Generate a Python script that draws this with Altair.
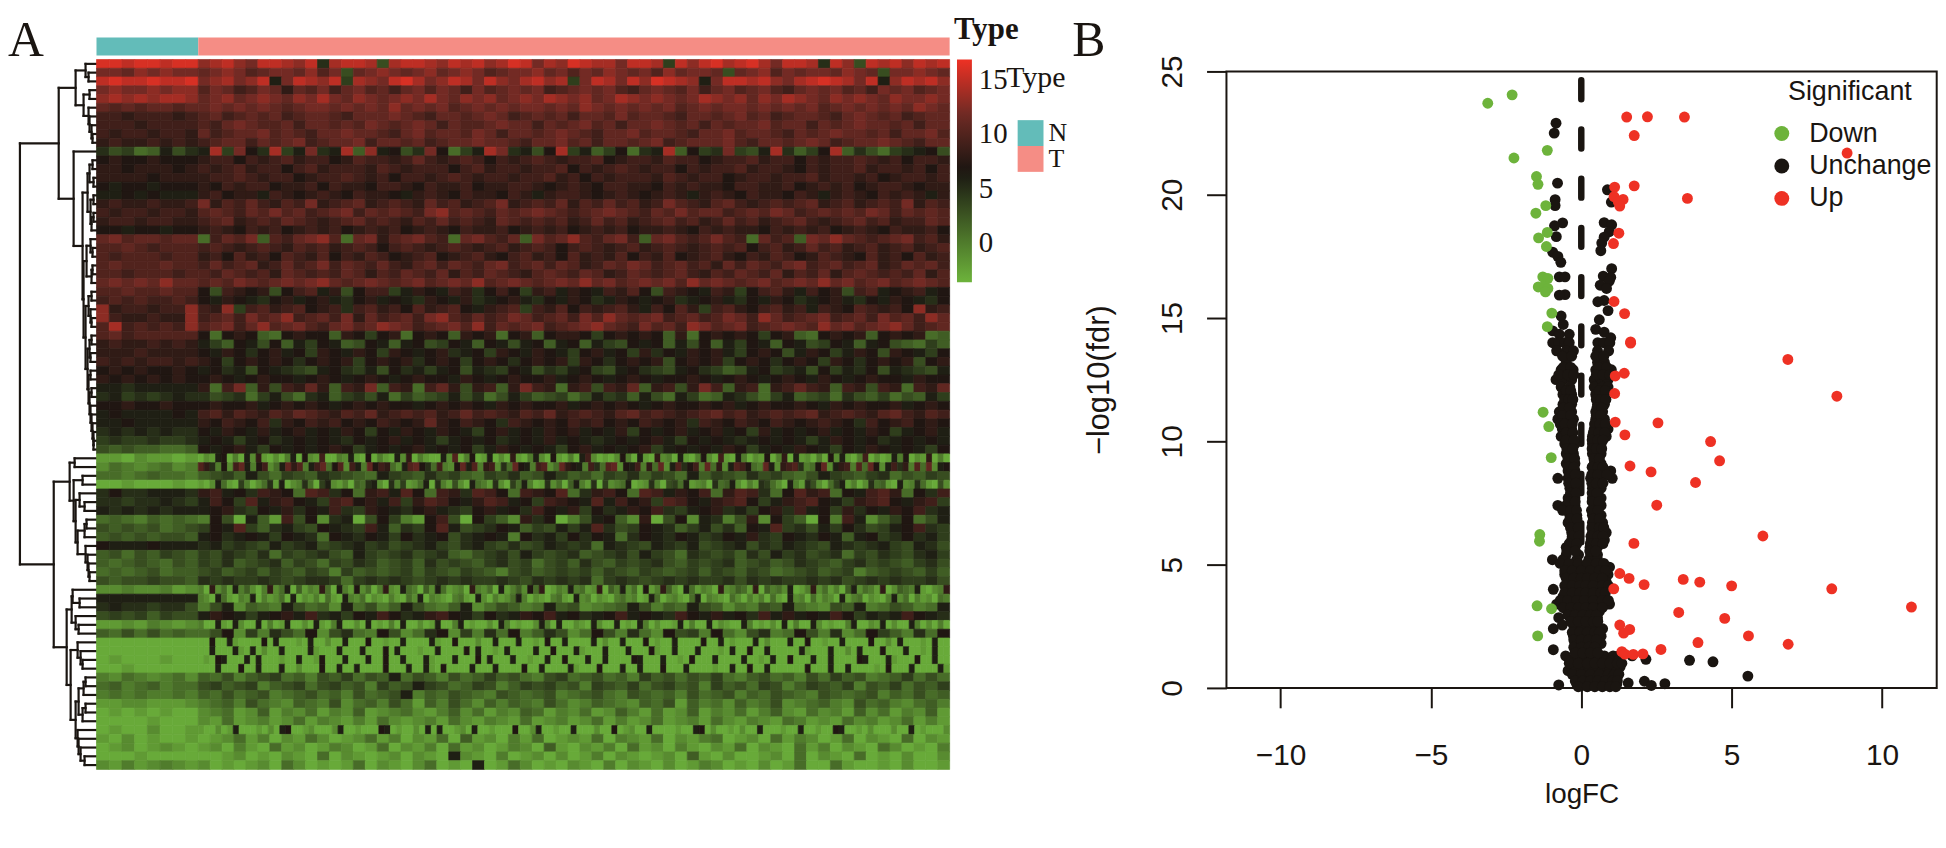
import altair as alt
import pandas as pd

alt.data_transformers.disable_max_rows()

INK = "#1a1511"
GREEN = "#6db33b"
BROWN = "#6e2a24"
RED = "#ee3124"
TEAL = "#63bcb9"
SALMON = "#f58d85"
SERIF = "Liberation Serif"
SANS = "Liberation Sans"

N_SAMPLES = 34
T_SAMPLES = 251
N_ROWS = 81

# Heat map: one letter per block, A=-3, B=-2 ... J=6, K=7 ... T=16
heat_N = [
"TTSTTSTT","PPOQPQPP","STSSTSST","PQPPQPQQ","QRQRQRRQ","ONONOONO","MMLMMMLM","MMMLMMMM",
"MLMMLMML","LMLLMLML","IGHEFJGI","KLKKLKKK","LLKLLLKL","LLLLKLLL","KJKKJKKK","JJKJKJJJ",
"LMLLMLLM","MLMMLMML","LMMLMMLL","KKJKKJKK","OPNOONOO","NNONMNNN","NMNNNMNN","NONNNONN",
"NNMNNNMN","OPOPOQOO","NNONNONN","MNMNMMNM","QLMMLMMQ","QMLLMLLQ","NRMNMNMQ","NOMNNNNN",
"LMLLMLML","LLLMLLLL","MLMLMMLM","KLKLKKLK","LKLKLKLK","JJIJJJJJ","IJHIHIJI","KKLKKLKK",
"JKJJJJKJ","JJKJJJJJ","IJIJIJII","HIHHIHHI","GFGFFEEF","BBACBBAB","CEDCDECD","EEDEFEED",
"AABAAABA","IKIIJJJI","IIHIIJIH","JIJIJIJJ","EFEDFEFE","GFGFGEFG","FGFGFGGF","KJJJKJJJ",
"FGEGFHGF","FEFGFEGF","EFEFGEFF","GFGGHGGF","CCDCCDBC","JJJJJJJJ","IJIIHIIG","GHGHFHGG",
"BBCBDCBC","FEGEGEFE","AAAAAAAA","AAAAAAAA","ABAAABAA","AABAAAAA","DCEDCDEC","EFDEFDEE",
"DEDEDDED","BBCCBBBC","ABABABAA","AAAABAAA","ABAACAAB","BACABAAB","ABCABCBA","AAABAAAA",
"CBDBCDCB",
]
heat_T = [
"QRSQPSSRQSIRSSRGRSSRQSRSQRTSPRQTSRRPSSRHSQSTRSTRPSSRISQGSRSQSRS",
"OPQPNOPPOQNPGOPQPOPQOPQPNOPPQOPNPOQPOPNQOPPOGOPQNPOPPOQPOGPPQPO",
"PQRPQSJPSRQSHRQPSTRPQSRPSQPRSQRHPSRPSQTSRQJPSSRSQPRSTSRPSJQSRSQ",
"NPOMNPOLONPMOPNOMOPNPOMPNOPOPMNOPOPNMOPONPMOPNOPNMOPOPNOMPOPNOP",
"OPQOPQPOQPRPOQPOPQPRPOQPQOPQPRQPQOPRQPQPOPRQPQOQPRQPOQPQPOQPPQP",
"OPOPOPONOPPOPOPOQOPOPNOPOPOPPOPOQPOPOPOPNOPOPPOPOPOPNOPOPOPOQPO",
"NOMNONOMNOONMOOOPONMOONOPOMNONOMOONPNOONMOONOPNOMNOONMOPONOMNOO",
"NMOPONNOMOONONPONOPOMONNOPOOMONOPNOMOOPONOMONOOPNOOMONOPOONOMOO",
"OMNOOPNONMOOPOONMOPNOONPOMOONOPONMOOPNOONMOOPNOONMONOPOONOMOOPN",
"MNOOMONOPMNOOPMOONOMNOOPOONMOOPNOMOONOPMNOOOPNMOONOPOMNOOPONMOO",
"JRHPKIRHJPIJRFQJKGIPKEHJRPIJGKRHJFHKEIJRFKHIPHGJRIFHKRFIGEHIJKG",
"LMMKMLMNLMMKLNMMLMOMLMNMKMLMNMLMMNKLMMLNMMKLMMNLMMKMLMMNMLMKMML",
"MLMNLMMKMNLMMMLNMLMMMKMNLMMLMMNKMLMNMLMMKMLMMNLMMLKMLMMNLMMLMKM",
"LMMNMLMMKLMMNMLMKMMLMNMLMMLMMNLMKMLMMMLNMLMMKLMMLMMNLMMLMKLMMLM",
"LKMLMMKLLMKMLLKMMLKMLLMKLLMMLKLMLKMMLLKMLMLLKMMLLMKLMLMKLMMLKLL",
"LMKLLJMLKLMLKMLLKJLMLKMLLKMLJLMMLKLMLKLMLJLMLKMLLKMLJLMLKMLMLJL",
"PLNMOMLNMPLMNOLMNMLOMNLMNPLMNMOLNMOMNLMPNMLNOMLMNMNOLMNLMNMPLNM",
"NONMONPNOMNOPMONONMPQNONMONOPONMNOPONMONPNOOMNONPOMNONONPOMONON",
"MNOLMNMONMLMNOMNMLNMOMNMLONMNMNLMOMNLMNOMNLMOMNLMNOMLMNOMNLMMON",
"LMLKMLMKLMLMKLMLMKLMLKMLLMKLMLMKLMLMKLLMLKMLMLLKMLMLMKLMLKMLLMK",
"EMONPFNMOPQNEOPLNOPNMEOPNMOFPNOQNMOPMFOPNMNPNMEOMNFPOQONMNOPMNL",
"MNMLMNMLNMNLMNMKMNMLMNMLMNLMNMKMNMLMNLMNMLMNMNKMNLMOMNLMNLMNLMN",
"LMKNLMKNMLNKMLNMKLMNKLMNLKMNLMKNLMLNKMLNKLMNLKMLNMKLNMLKNLMKNLM",
"MOMNOLMOMNPMONMOMLNOMONMOPMNOMONLMONPOMNOMNLOMONMOPMNOMNOLMONOM",
"NMONMNLONMNMONLNMONMOLNMONMLNONMONLMONMNOMLNMONMOLNMOLNONMNMOLN",
"NONPONOPOPQONOPONOPNOPOQNOPONOPOQOPNOPOPNQOPONOPNOPOQOPNOPNOPON",
"KGMLKLGKMNJLGKMMHJLKJMLIKMKHLMJLKJMLNKGMLKJMLHKMNLJMKLGMNJKLMJK",
"KJLKJIKLJKLJIKLJKJILKJLIJKLJIKJLKIJLKJKLIJKLJIKJLKIJKLJIKJLKJIK",
"MLQHMNLMNKLMIMNLMKNLMNKJLMNHMLNKMLMNLJMKNLHMNLKMNLMJMLKNMLMKQLM",
"MNOMPNOQMNOMPLOMNOMPQNMOMNPOMNOMPNQONOPMNOMNPOMQOMNOPMNOMPNOMQO",
"NOPMOQNOPNMOPNOQPOMNOPNQMONOPMNOPQONMPNOMQPNOPMNOPONQOPNOPQOMNO",
"KEKLKFEKLKKFLKHKLEKLKFLKLEKLFKLLKHKLKLKFLEKLKLKHKLFEKLKLFKLKLEF",
"JHFKJGKFJHKJFGKJFJKGHKJFKJGJKFJKFJHGKJKFJGKFJHKJFKJGHKJFJKGFEHF",
"KJLKIKLJKHLKJLKHLKJKLIJKHLKJLKJHKLJKHLIKJLKLJHKLKGJLKHJLKGLKJHK",
"LKHKLKLKIKLKLHKLKLIKLKHKLKIKLKLHLKIKLKLGKLKLHKLKIKLKHLKIKLKLGKL",
"JKIJGKJIHGJKIHJGKIJHJKGJIHKJGIHJKHGJKIHGJKIHFGJKHIJGKHJIKGJIHGJ",
"KLKJKLKKJKLKJKLKJKLKKJLKJKLKKLJKLKJKLKJKKLKJKLKJKLKJLKJKLKKJLKK",
"LEMPFLGMLOLFMLPFMLEMOLGLMFLPMLELMGMLOFLMGLPMFLMELMOMLFMLGMLEMLO",
"IGHIEHJGEIJFHIGJEHFGHJGIEGJHFGHEGJHIFJGEJHEFJIGEHJFGHEIGFHEGFJH",
"KLKKLJKLKLKJKLKLKKJKLKLKJLKLKKLJKLKLKJKLKKLKLJKLKKLKJLKLKKLJKLK",
"MNLNMLNMONMLNMOLMNMNLMOMNMLNMOLMNMLNOMNMLMNOMNLMNMNOLMNMLNOMLNM",
"LKMLKMILKMLMKLKMLKLOLKMLKIMLKLKMLMKLKMLKLIMLKMLKMLKLMLKIMKLMKLK",
"KJLKJLJKLJKJLKHKJLKJLKJHKLJKJLKLJKJLHKJKLJKLJKHLJKJKLJKJLKHJKLJ",
"JKJHJKIJKJKJIKJKLJKJHJKJKIJKJLJKJIJKJKLJHKJKJIJKJKJHJLKJKIJKJKJ",
"KJKLJHKJKJKLKHJKJKLJKJKHJLKJKJHKLJKJKLHJKJKJLKHJKJLKJHKJLKJKJHK",
"ACBJKADAJCLBACADJAKCBMAADCJBAKADBAJCLADBAAJCNADKABJACALBADJCAKBADAJMCABACKDAJBALCDAJBADKCAMBAJDACBKADLAJBCADAKCJBADMACABJDKACBLADA",
"NLIDKCMOJDKMCEJOLNDJMOEKNCMJDOKMLECJNOKIEMDCKOJNDLMCIEOKJDMNCEOLKJDMIENOCKJMDLEOCJNIKMDOELCJNMKEDOJCLMNIDEKOCJLMDNEOKCJMILDNEOCJK",
"FGHFJGEHGFIHGFEJHGFIGHFEHGIFGJHFGEHGIFHGEJFHGFIGHFEGJHGFHIEGFHG",
"BACJEBAHDACEIBJACDIEAHJCBDAFEIJCAIDHBCEJAIDBGCAJEDBICAHEJDABICEAFJDBIAHCDEJABCIDAGHEJBCDAIEFJCADBIHECAJDBIGCAEHJBDACIEFBAJCDIEBAGC",
"LMJKIMLKENMIKELMJNKEMLINMKEMLKNEILMKENMJLKMELNMIEKNLMEKJMNLEKIM",
"JMKHNJLMKJHMNKLJMHLNMKJLNMJKHMLKJNJMKLHNMKJLMNKHJLMNKJHLMNKJLMH",
"JKLIHKJLIKJMIHLKJIKLJIHKLJKIMKJLHKIJLKMIHJKLIJHKLIMJKHLIKJLKMIJ",
"DKGAJFBMGKCIJAGKHDBKMGAKHFCLIKADGJKFCLAGKCJIDGLCKHFAKDMJCFHKEGJ",
"HKJNHFIJHGKJIHMJFIHKNJGHIKJFHGJHJNIGHKJIFHJGIFKJNHIGJHKIGHJKMIH",
"JKIJKJHKJIEKJIKJHKIJKGIJKJDKIJHKIKJEIKJIKJHIKJLIHKJIKJFJKHIKIJH",
"IJHIHGJHIJGHIJHIGHIJHGIJHGIGHJIHIEJIHGJIHJGHIJGIHJIHGJIHIJHGJIG",
"HGIHGIEHGHIGFJHGHIGHIFEGHIGJHGHIFGHIGJHGEIHGHFIGJHIGHIEHGIHGIJH",
"HGIFGHIFHGEHGIHFGHFIGHGFHIGHEGHFIGFHGHIGFHGHIFGHFGIHGFHIGHGFHIG",
"GHFGHFHGFHGDHFGFGHFHGFHGFDGHFGHGHFHGFHGFGHFHGFHGEFGHFGHDFGHGFHF",
"IHIHHIHGHIIHEHIHIHGHIHIHHIHGIHIHIEHIHGHIHIHHIGIHIHHIHIGHIHIHHIG",
"DALCEBJDFCADLCEJAFBDCLEAJDBKCEADLCBJEDAFCJEBCDALDCEAJBDFCKELABDCJDEBCLAFDJCEAKBDLFCAJEBDCALCDFEBLAFDECJABDLCEBDAFJCEDBLACFEDJBACDL",
"DCAJEBADCJADBCEAJACBDAEBAJDCEACBADBAECJADCBADEBAJCADBCEJDACBADEBAJCDACBADECDABJEACDBAEJADCBAECADBDAEBAJCDAEBDCAJBDEACBADJCEADBCAED",
"DGJCFEDJGEFCJEGDFJGEDFJCEGFDEJFGCDEFJGDFEJGFCEDGFJEDCGFJDEGFDEJ",
"JLKJHJKLJMIJHKJMKIJLMKJHKIJLKMJKIJKMJKJIMKJLJKIMJLJKJMKHJIJMKJI",
"DAAJBAJCAAJADABJAACAJBADJAACAJABADAJAACABJAADJABAACAJDABAACJDAJAACBAJCAAJABAJDACAABJADAAJACBAAJDABACAJADAAJCABAADJAACBJACAAJDACADA",
"EGKCHDIGEKCGIEDKGCEIKCHDIEKDFIGCEKGDIECKGHDKECGIDEKGDICEKHFDIEK",
"AAKAAJBAAAAKAJAAABAJAACAAJAAAKAABAAJAAAAJBAAKAAACAAJAAAJAABAKAAJAAAAJACAAJAAAKABAAJAAAAKAAJABAAAJACAAAJAAKAABAAJAAAAKAACAJAAABAJAA",
"AAJAAAJBAJACAAJAAAAJBAAAJAAAJAAAKAJAAABAAJAAAAKAJAABAJAAAAJAAKAAAJBAAAJAAAJAAAKBAAJAAAJAAABAJAAKAAJAAAAAJBAAAJAACAJAAAKAAAJAABAJAA",
"ABAKJAAAJAJAAABAAJAABKAAAJAAAJAAKAAJAAAJBAAAJAAAKAJAAAJAABAAJAAKAAAJAAJAAAAKJAAAJAABAKAAAJAAAAJAABAJAAKAAAJAAJAAAAKJAAAJBAAAKAAJAA",
"AAAJAAAKAAJAAAJAACAAAKAAJAAJAAAAKAAAJAAJBAKAAAAJAAAJAAAAKAAJAAAAJBAAAKAAAJAAJAAAKAAAJAAAABAAJAAKAAJAAAAAAKAAAJAAJAAAABAKAAAJAAAAJB",
"FEGDFGHEFDGFHEGFJEGFDGEFHFGEDGHEFGEFDHFGEGFHEDFGEFDGEHFGDEFHEGE",
"GHFGHDFGHEGHFGDHFGJHGEFHGDFHGHFGDHGFHEGHFGDHFGEHGDFHGFHDGFHEGFH",
"FEGEFGDEFGEFDGEFGJDFEGFEDGFEFGDEFGEDGFEFDGEFGDFEGFEDGFEFGDFEGEF",
"DEFDGEDCFEDGCEFDGEBFDGECFDFEDGECDFEDCFEGBFDECFDEGCDEFDCGEFDCEFD",
"CDEBCFBDCEBDCFBCDECBDFCEBDCFEBDCEBCFDBEBCFBDCEBDFCBECDBFCEBDCFB",
"CBEBCDBCEBDCBDBECBCDBECBDCBEBCDBCEBDBCEBCDBECBDCBEDBCBECDBCEBDB",
"BAACABJAAABACAJKAABCAAACJAABAAAKJABAACAJAJAABCAJAABAAAKAACJAABAAJAAACAAKABCAAJAAAABAAJKACAABACAAJAAABAAJAABAAKJAABACAAACAAJABAAAC",
"ABCEBDACBECABCEBDACBEAFBCADBEABCBEADCBEACBDEABCAEBDCABEACBAEACB",
"BCADBAEBCABDCABEACBDAEBCABDCAFBACBDAEBCADBACBEACBAEBDACBAECABAD",
"AABCABACBAEACBABCACBAJCBADABCACABDACBABCAFBACAABCAEACBAEABACAAC",
"CABABCAECABABEACBACEABAJABECABACBADACBACABDCABACABEAAEBAABACAAB",
]

# Dendrogram: (height, child, child); a bare number is a heat-map row
dendro_tree = (77,
    (38,
        (21,
            (11, 0, (8, 1, 2)),
            (13, (7, 3, 4), (8, 5, (7, 6, (5, 7, (4, 8, 9)))))),
        (23, 10,
            (14,
                (9, (7, (4, 11, 12), (3, 13, 14)), (6, (3, 15, 16), (5, (3, 17, 18), 19))),
                (13,
                    (10, (6, 20, (4, 21, 22)), (5, (4, 23, 24), 25)),
                    (11,
                        (8, (5, 26, 27), (6, 28, (5, 29, 30))),
                        (9,
                            (7, (5, 31, 32), (6, 33, 34)),
                            (8, (6, 35, 36), (7, (5, 37, 38), (6, 39, (5, 40, (4, 41, (3, 42, (3, 43, 44))))))))))))),
    (43,
        (27,
            (22, 45, 46),
            (23, (14, 47, 48),
                (21, (17, 49, (12, 50, 51)),
                    (19, (12, (10, 52, 53), 54), (11, 55, (9, 56, (8, 57, (7, 58, 59))))))))
        ,
        (30,
            (25, (24, 60, (17, 61, 62)), (21, 63, (18, 64, 65))),
            (26,
                (19, 66, (16, 67, (14, 68, 69))),
                (21,
                    (18, (13, (11, 70, 71), 72), (14, (11, 73, 74), 75)),
                    (19, 76, (18, 77, (16, 78, (12, 79, 80))))))))
)

# Volcano plot
down_x = [-3.11,-2.30,-2.24,-1.13,-1.49,-1.44,-1.18,-1.51,-1.13,-1.42,-1.16,-1.28,-1.11,-1.43,-1.22,-1.11,-1.19,-0.98,-1.13,
          -1.27,-1.08,-1.00,-1.38,-1.39,-1.47,-0.99,-1.45]
down_y = [23.71,24.05,21.49,21.80,20.74,20.42,19.56,19.25,18.47,18.25,17.90,16.67,16.61,16.26,16.29,16.20,16.06,15.20,14.65,
          11.18,10.60,9.34,6.22,5.95,3.33,3.21,2.11]
up_x = [1.51,2.20,3.43,1.76,8.84,1.76,1.11,1.09,1.39,1.23,1.28,3.53,1.25,1.07,1.09,1.44,1.64,
        1.64,6.87,1.43,1.13,8.50,1.11,1.13,2.55,1.45,4.30,4.60,1.62,2.32,3.80,2.51,6.04,1.75,
        1.28,1.59,2.09,1.08,3.39,3.94,5.00,8.33,10.98,3.24,4.77,1.28,1.61,1.41,5.56,6.88,3.88,2.65,1.35,1.45,1.73,2.05]
up_y = [23.15,23.16,23.15,22.40,21.69,20.36,20.31,19.92,19.81,19.72,19.54,19.85,18.44,18.02,15.67,15.18,14.03,
        13.98,13.32,12.76,12.65,11.83,11.94,10.78,10.75,10.26,9.99,9.21,9.00,8.76,8.33,7.41,6.16,5.86,
        4.64,4.44,4.19,4.02,4.40,4.29,4.14,4.02,3.28,3.06,2.82,2.55,2.37,2.22,2.11,1.77,1.84,1.56,1.47,1.37,1.36,1.38]
# Unchanged points, one (fdr level, [logFC ...]) per band
flat_rows = [
(22.90,[-.84]),(22.50,[-.90]),(20.47,[-.79]),(20.20,[.87]),(19.80,[-.87]),(19.70,[1.00]),(19.56,[-.87]),
(18.87,[.76]),(18.86,[-.62]),(18.78,[1.01]),(18.74,[-.89]),(18.50,[.93]),(18.30,[-.83]),(18.28,[.76]),(18.04,[.68]),
(17.73,[.65]),(17.67,[-.95]),(17.50,[-.78]),(17.26,[-.68]),(17.00,[1.01]),(16.70,[.73]),(16.67,[-.73,-.54]),(16.65,[.98]),
(16.50,[.93]),(16.33,[.63]),(16.20,[.84]),(15.95,[-.54]),(15.93,[-.73]),(15.71,[.76]),(15.66,[.55]),(15.30,[.89]),
(15.08,[-.67]),(14.93,[.60]),(14.74,[-.60]),(14.54,[.48]),(14.48,[-.95]),(14.43,[.76]),(14.34,[-.40,-.73]),(14.20,[.98]),
(14.00,[-.95,-.75,-.55,-.40,.55,.75,.95]),(13.67,[-.82,-.50,-.26,.54,.91]),(13.20,[-.50,.54,.77]),
(12.90,[-.67,-.27,.48,.77,1.00]),(12.50,[-.84,-.61,-.32,.43,.66,.89]),(12.20,[-.67,-.38,.43,.71,.89]),
(11.90,[-.61,-.32,.48,.77]),(11.50,[-.61,-.32,.54,.77]),(11.20,[-.73,-.32,.48,.71]),(10.90,[-.78,-.50,-.26,.48,.77]),
(10.50,[-.63,-.32,.43,.71,.89]),(10.20,[-.67,-.32,.37,.66,.83]),(9.90,[-.55,-.21,.37,.66]),(9.50,[-.50,-.26,.37,.66]),
(9.10,[-.50,-.21,.43,.66]),(8.80,[-.44,-.21,.43,.77,.98]),(8.50,[-.78,-.44,-.21,.31,.66,1.03]),(8.10,[-.38,-.15,.37,.66]),
(7.70,[-.44,-.21,.37,.66]),(7.40,[-.78,-.50,-.21,.43,.66]),(7.00,[-.38,-.15,.37,.66]),(6.70,[-.44,-.15,.37,.71]),
(6.30,[-.32,-.09,.37,.66,.83]),(6.00,[-.32,-.09,.33,.60,.77]),(5.70,[-.50,-.21,.29,.54]),(5.40,[-.50,-.09,.31,.54]),
(5.20,[-.96,-.61,-.15,.25,.54]),(4.90,[-.50,-.15,.20,.54,.83,.94]),(4.60,[-.55,-.21,.08,.31,.60,.89]),
(4.30,[-.44,-.15,.08,.25,.66,.83]),(4.00,[-.93,-.50,-.21,.02,.25,.54,.83]),(3.70,[-.61,-.26,.02,.25,.54,.77]),
(3.40,[-.82,-.61,-.26,-.03,.25,.60,.83,.94]),(3.10,[-.38,-.15,.08,.31,.60]),(2.85,[-.75,-.26,-.03,.25,.54]),
(2.55,[-.63,-.26,-.03,.20,.48]),(2.40,[-.93,-.21,.02,.31,.71]),(2.10,[-.26,-.03,.20,.43,.66]),(1.80,[-.21,.02,.25,.48,.66]),
(1.55,[-.93,-.21,.02,.25,.48]),(1.30,[-.52,-.15,.08,.31,.54,.77,1.06,1.23,1.69]),(1.16,[2.15]),(1.12,[3.60]),(1.06,[4.38]),
(1.10,[-.38,-.15,.08,.31,.54,.77,1.00,1.23]),(.85,[-.32,-.09,.14,.37,.60,.83,1.06,1.29]),
(.70,[-.44,-.21,.02,.25,.48,.71,.94,1.18]),(.48,[5.54]),(.40,[-.09,.14,.37,.60,.83,1.06]),(.27,[2.10]),(.20,[1.56]),
(.17,[2.78]),(.15,[-.15,.08,.31,.54,.77,1.00,1.18]),(.12,[-.75]),(.10,[2.33]),
(13.45,[-.62,-.32,.48,.75]),(13.00,[-.60,-.35,.58,.85]),(12.70,[-.75,-.45,-.25,.50,.72,.95]),(12.05,[-.50,-.35,.60,.80]),
(11.70,[-.55,-.42,-.28,.50,.65,.82]),(11.35,[-.60,-.40,.52,.68]),(11.05,[-.62,-.36,.50,.64]),(10.70,[-.70,-.55,-.30,.44,.62,.80]),
(10.35,[-.50,-.28,.40,.58,.78]),(10.05,[-.50,-.24,.36,.55,.72]),(9.70,[-.48,-.28,.36,.50,.68]),(9.30,[-.44,-.22,.42,.60]),
(8.95,[-.44,-.24,.36,.56,.72]),(8.65,[-.40,-.20,.35,.55,.85]),(8.30,[-.42,-.18,.35,.50,.72]),(7.90,[-.36,-.17,.36,.52]),
(7.55,[-.42,-.20,.36,.58]),(7.20,[-.62,-.36,-.16,.34,.56]),(6.85,[-.38,-.14,.40,.60]),(6.50,[-.36,-.10,.35,.60,.75]),
(6.15,[-.30,-.08,.32,.55,.72]),(5.85,[-.40,-.15,.30,.50,.72]),(5.55,[-.48,-.20,.28,.48]),(5.05,[-.70,-.40,-.10,.20,.50,.75]),
(4.75,[-.55,-.30,.00,.30,.60,.80]),(4.45,[-.50,-.25,.00,.20,.45,.70]),(4.15,[-.55,-.30,-.05,.15,.40,.70,.90]),
(3.85,[-.55,-.30,-.05,.15,.40,.65,.80]),(3.55,[-.70,-.45,-.15,.10,.40,.70,.90]),(3.25,[-.60,-.35,-.10,.15,.40,.70]),
(2.95,[-.45,-.20,.05,.30,.50]),(2.70,[-.35,-.10,.15,.40,.55]),(2.25,[-.30,-.05,.20,.45,.60]),(1.95,[-.25,.00,.25,.50]),
(1.65,[-.25,.00,.25,.45]),(1.42,[-.20,.05,.30,.55]),(1.00,[-.40,-.10,.20,.45,.70,.95,1.20,1.35]),
(.55,[-.30,.00,.30,.60,.90,1.10,1.25]),(.28,[-.20,.05,.30,.55,.80,1.05,1.20]),(.05,[-.10,.20,.45,.70,.95,1.15]),
]
y_ticks = [0, 5, 10, 15, 20, 25]
x_ticks = [-10, -5, 0, 5, 10]
sig_order = ["Down", "Unchange", "Up"]
type_order = ["N", "T"]

# --- heat map tables
cells = []
for r, (a, b) in enumerate(zip(heat_N, heat_T)):
    for i, c in enumerate(a):
        s = N_SAMPLES / len(a)
        cells.append(dict(x=i * s, x2=(i + 1) * s, y=r, y2=r + 1, v=ord(c) - 65 - 3))
    for i, c in enumerate(b):
        s = T_SAMPLES / len(b)
        cells.append(dict(x=N_SAMPLES + i * s, x2=N_SAMPLES + (i + 1) * s, y=r, y2=r + 1, v=ord(c) - 65 - 3))
heat_df = pd.DataFrame(cells)

# --- dendrogram table
segments = []
def walk(node):
    if not isinstance(node, tuple):
        return 0, node + 0.5
    h, a, b = node
    ha, ya = walk(a)
    hb, yb = walk(b)
    segments.append(dict(h=h, h2=h, y=ya, y2=yb))
    segments.append(dict(h=h, h2=ha, y=ya, y2=ya))
    segments.append(dict(h=h, h2=hb, y=yb, y2=yb))
    return h, (ya + yb) / 2
walk(dendro_tree)
dendro_df = pd.DataFrame(segments)

# --- volcano table
pts = []
for y, xs in flat_rows:
    pts += [dict(fc=x, fdr=y, sig="Unchange") for x in xs]
pts += [dict(fc=x, fdr=y, sig="Down") for x, y in zip(down_x, down_y)]
pts += [dict(fc=x, fdr=y, sig="Up") for x, y in zip(up_x, up_y)]
pts_df = pd.DataFrame(pts)

ROW_H = 714
ANN_H = 18
HEAT_W = 858
x_samples = alt.Scale(domain=[0, N_SAMPLES + T_SAMPLES], nice=False, zero=False)
y_rows = alt.Scale(domain=[0, N_ROWS], reverse=True, nice=False, zero=False)
blank = pd.DataFrame({"k": [0]})

def label(txt, x, y, size, font=SERIF, weight="normal", angle=0, baseline="alphabetic"):
    return alt.Chart(blank).mark_text(text=txt, font=font, fontSize=size, fontWeight=weight, color=INK,
                                      align="left", baseline=baseline, angle=angle).encode(
        x=alt.value(x), y=alt.value(y))

# dendrogram panel: its rows continue up past the annotation bar
dendro = alt.layer(
    alt.Chart(dendro_df).mark_rule(color=INK, strokeWidth=2.2, strokeCap="square").encode(
        x=alt.X("h:Q", axis=None, scale=alt.Scale(domain=[80, 0], nice=False, zero=False)),
        x2="h2:Q",
        y=alt.Y("y:Q", axis=None, scale=alt.Scale(domain=[-(ANN_H + 4) * N_ROWS / ROW_H, N_ROWS], reverse=True, nice=False, zero=False)),
        y2="y2:Q"),
    label("A", -9, 18, 50),
).properties(width=80, height=ROW_H + ANN_H + 4)

ann_df = pd.DataFrame({"type": type_order, "a": [0, N_SAMPLES], "b": [N_SAMPLES, N_SAMPLES + T_SAMPLES]})
ann = alt.layer(
    alt.Chart(ann_df).mark_rect().encode(
        x=alt.X("a:Q", axis=None, scale=x_samples), x2="b:Q",
        color=alt.Color("type:N", scale=alt.Scale(domain=type_order, range=[TEAL, SALMON]),
                        legend=alt.Legend(orient="none", legendX=926.4, legendY=83, title=None,
                                          symbolType="square", symbolSize=676, symbolStrokeWidth=0,
                                          labelFont=SERIF, labelFontSize=26, labelColor=INK, labelOffset=5,
                                          rowPadding=0, symbolOpacity=1))),
    label("Type", 862.5, 1, 31, weight="bold"),
    label("Type", 915, 50, 30),
).properties(width=HEAT_W, height=ANN_H)

scale_heat = alt.Scale(domain=[-3.6, 6.65, 11.8, 16.9], range=[GREEN, INK, BROWN, RED], interpolate="rgb", nice=False, zero=False)
heat = alt.Chart(heat_df).mark_rect(strokeWidth=0.7).encode(
    x=alt.X("x:Q", axis=None, scale=x_samples), x2="x2:Q",
    y=alt.Y("y:Q", axis=None, scale=y_rows), y2="y2:Q",
    color=alt.Color("v:Q", scale=scale_heat,
                    legend=alt.Legend(orient="none", legendX=865.4, legendY=0, title=None, values=[0, 5, 10, 15],
                                      gradientLength=224, gradientThickness=15, gradientStrokeWidth=0,
                                      labelFont=SERIF, labelFontSize=29, labelColor=INK, labelOffset=7,
                                      labelOverlap=False)),
    stroke=alt.Stroke("v:Q", scale=scale_heat, legend=None),
).properties(width=HEAT_W, height=ROW_H)

heat_col = alt.vconcat(ann, heat, spacing=4, bounds="flush").resolve_scale(color="independent")

x_fc = alt.Scale(domain=[-11.8, 11.82], nice=False, zero=False)
y_fdr = alt.Scale(domain=[0, 25], nice=False, zero=False)
points = alt.Chart(pts_df).mark_point(filled=True, size=120, opacity=1, strokeWidth=0).encode(
    x=alt.X("fc:Q", scale=x_fc, title="logFC",
            axis=alt.Axis(values=x_ticks, format="d", grid=False, tickSize=20, tickWidth=2, tickColor=INK,
                          domain=False, labelFont=SANS, labelFontSize=30, labelColor=INK, labelPadding=33,
                          titleFont=SANS, titleFontSize=28, titleColor=INK, titleFontWeight="normal", titlePadding=10)),
    y=alt.Y("fdr:Q", scale=y_fdr, title="\u2212log10(fdr)",
            axis=alt.Axis(values=y_ticks, format="d", grid=False, tickSize=20, tickWidth=2, tickColor=INK,
                          domain=False, labelFont=SANS, labelFontSize=30, labelColor=INK, labelPadding=19,
                          labelAngle=-90, labelAlign="center", labelBaseline="bottom",
                          titleFont=SANS, titleFontSize=31, titleColor=INK, titleFontWeight="normal", titlePadding=43)),
    color=alt.Color("sig:N", scale=alt.Scale(domain=sig_order, range=[GREEN, INK, RED]),
                    legend=alt.Legend(orient="none", legendX=545, legendY=42, title="Significant",
                                      titleFont=SANS, titleFontSize=27, titleFontWeight="normal", titleColor=INK,
                                      titleAnchor="middle", titlePadding=14,
                                      labelFont=SANS, labelFontSize=27, labelColor=INK, labelOffset=14,
                                      symbolType="circle", symbolSize=225, symbolStrokeWidth=0, symbolOpacity=1,
                                      rowPadding=4.6)),
)
centre = alt.Chart(pd.DataFrame({"fc": [0], "top": [24.64], "bottom": [0]})).mark_rule(
    color=INK, strokeWidth=6.5, strokeDash=[19, 30.5], strokeCap="round").encode(
    x=alt.X("fc:Q", scale=x_fc), y=alt.Y("top:Q", scale=y_fdr), y2="bottom:Q")
volcano = alt.layer(centre, points).properties(
    width=714.3, height=620, view=alt.ViewBackground(stroke=INK, strokeWidth=2, fill=None))

b_panel = label("B", -155, 18, 50).properties(width=714, height=30)
right_col = alt.vconcat(b_panel, volcano, spacing=4, bounds="flush")

left = alt.hconcat(dendro, heat_col, spacing=0, bounds="flush").resolve_scale(color="independent")
chart = alt.hconcat(left, right_col, spacing=1216.4, bounds="flush").resolve_scale(color="independent").properties(
    padding={"left": 0, "top": 3.5, "right": 0, "bottom": 0},
    background="white",
).configure_view(stroke=None)

chart.save("out.html", embed_options={"renderer": "svg", "actions": False})
